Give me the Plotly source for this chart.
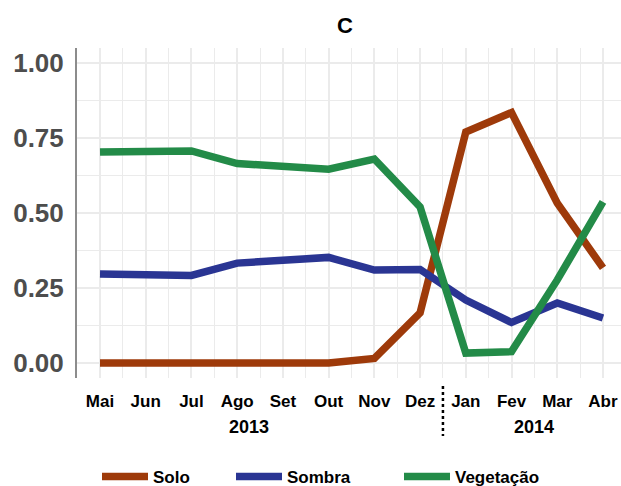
import plotly.graph_objects as go

months = ["Mai", "Jun", "Jul", "Ago", "Set", "Out", "Nov", "Dez", "Jan", "Fev", "Mar", "Abr"]
years = ["2013", "2014"]
solo = [0.0, 0.0, 0.0, 0.0, 0.0, 0.0, 0.015, 0.167, 0.77, 0.835, 0.533, 0.317]
sombra = [0.297, 0.292, 0.292, 0.333, 0.342, 0.352, 0.31, 0.312, 0.21, 0.135, 0.2, 0.15]
vegetacao = [0.703, 0.707, 0.707, 0.665, 0.656, 0.646, 0.68, 0.52, 0.033, 0.038, 0.277, 0.537]
series_names = ["Solo", "Sombra", "Vegetação"]
colors = ["#9E3A0A", "#2A3593", "#238B48"]

FONT = "Liberation Sans, Arial, sans-serif"
W, H = 621, 486
x = list(range(len(months)))

fig = go.Figure()
legend_ids = ["legend", "legend2", "legend3"]
for name, vals, col, lg in zip(series_names, [solo, sombra, vegetacao], colors, legend_ids):
    fig.add_trace(go.Scatter(x=x, y=vals, mode="lines", name=name,
                             line=dict(color=col, width=7.5), legend=lg))

legend_common = dict(orientation="h", yanchor="middle", y=1 - 477 / H, yref="container",
                     xanchor="left", xref="container", itemwidth=46,
                     font=dict(family=FONT, size=17, color="black", weight="bold"),
                     bgcolor="rgba(0,0,0,0)")
legend_x = [97 / W, 231 / W, 399 / W]

fig.update_layout(
    width=W, height=H,
    margin=dict(l=77, r=0, t=48, b=108, autoexpand=False),
    paper_bgcolor="white", plot_bgcolor="white",
    title=dict(text="C", x=345 / W, xref="container", xanchor="center",
               y=1 - 25 / H, yanchor="middle",
               font=dict(family=FONT, size=22, color="black", weight="bold")),
    legend=dict(**legend_common, x=legend_x[0]),
    legend2=dict(**legend_common, x=legend_x[1]),
    legend3=dict(**legend_common, x=legend_x[2]),
    xaxis=dict(range=[-0.503, 11.394], tickmode="array", tickvals=x, ticktext=months,
               showgrid=True, gridcolor="#EBEBEB", gridwidth=1.5, zeroline=False,
               showline=False, ticks="", ticklabelstandoff=11, automargin=False,
               tickfont=dict(family=FONT, size=17, color="black", weight="bold"),
               minor=dict(tickvals=[i + 0.5 for i in range(-1, 12)], showgrid=True,
                          gridcolor="#EBEBEB", gridwidth=1.2)),
    yaxis=dict(range=[-0.05, 1.05], tickmode="array", tickvals=[0, 0.25, 0.5, 0.75, 1.0],
               ticktext=["0.00", "0.25", "0.50", "0.75", "1.00"],
               showgrid=True, gridcolor="#EBEBEB", gridwidth=1.5, zeroline=False,
               showline=True, linecolor="#8C8C8C", linewidth=2, ticks="",
               ticklabelstandoff=6, automargin=False,
               tickfont=dict(family=FONT, size=26, color="#4D4D4D", weight="bold"),
               minor=dict(tickvals=[0.125, 0.375, 0.625, 0.875], showgrid=True,
                          gridcolor="#EBEBEB", gridwidth=1.2)),
    showlegend=True,
)

fig.add_annotation(x=3.25, xref="x", y=(378 - 427) / 330, yref="paper", text=years[0],
                   showarrow=False, yanchor="middle",
                   font=dict(family=FONT, size=18, color="black", weight="bold"))
fig.add_annotation(x=9.5, xref="x", y=(378 - 427) / 330, yref="paper", text=years[1],
                   showarrow=False, yanchor="middle",
                   font=dict(family=FONT, size=18, color="black", weight="bold"))
fig.add_shape(type="line", xref="x", yref="paper", x0=7.5, x1=7.5,
              y0=(378 - 386) / 330, y1=(378 - 436) / 330,
              line=dict(color="black", width=2.5, dash="dot"))

fig.write_html("out.html", config={"displayModeBar": False},
               post_script="document.body.style.margin='0';")
